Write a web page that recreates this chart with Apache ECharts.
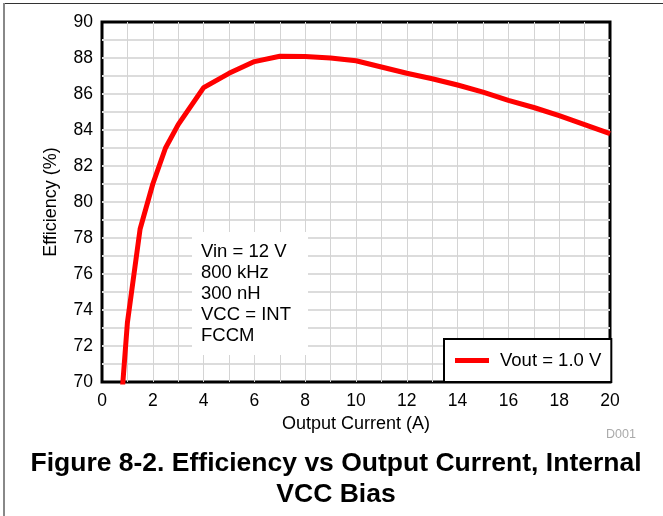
<!DOCTYPE html>
<html>
<head>
<meta charset="utf-8">
<script src="https://cdn.jsdelivr.net/npm/echarts@6/dist/echarts.min.js"></script>
<style>
  html, body { margin: 0; padding: 0; background: #fff; }
  #chart { width: 663px; height: 516px; }
</style>
</head>
<body>
<div id="chart"></div>
<script>
// Efficiency curve, Vout = 1.0 V
const currentA = [0.5, 1, 1.5, 2, 2.5, 3, 4, 5, 6, 7, 8, 9, 10, 11, 12, 13, 14, 15, 16, 17, 18, 19, 20];
const efficiencyPct = [64, 73.3, 78.5, 81, 83, 84.3, 86.35, 87.15, 87.8, 88.1, 88.08, 88.0, 87.85, 87.5, 87.15, 86.85, 86.5, 86.1, 85.65, 85.25, 84.8, 84.3, 83.8];
const seriesName = 'Vout = 1.0 V';
const conditions = ['Vin = 12 V', '800 kHz', '300 nH', 'VCC = INT', 'FCCM'];
const xTicks = [0, 2, 4, 6, 8, 10, 12, 14, 16, 18, 20];
const yTicks = [70, 72, 74, 76, 78, 80, 82, 84, 86, 88, 90];
const titleLines = ['Figure 8-2. Efficiency vs Output Current, Internal', 'VCC Bias'];

const FONT = '"Liberation Sans", Arial, Helvetica, sans-serif';
const chart = echarts.init(document.getElementById('chart'), null, { renderer: 'canvas' });

const points = currentA.map((x, i) => [x, efficiencyPct[i]]);

chart.setOption({
  animation: false,
  backgroundColor: '#fff',
  grid: {
    left: 102, right: 53, top: 22, bottom: 134,
    show: true, borderColor: '#000', borderWidth: 3, backgroundColor: '#fff'
  },
  xAxis: {
    type: 'value', min: 0, max: 20, interval: 1,
    name: 'Output Current (A)', nameLocation: 'middle', nameGap: 28,
    nameTextStyle: { fontFamily: FONT, fontSize: 18, color: '#000' },
    axisLine: { show: false },
    axisTick: { show: false },
    axisLabel: {
      fontFamily: FONT, fontSize: 17.5, color: '#000', margin: 10,
      formatter: v => (xTicks.indexOf(v) >= 0 ? String(v) : '')
    },
    splitLine: { show: true, showMinLine: false, showMaxLine: false, lineStyle: { color: '#d4d4d4', width: 1 } }
  },
  yAxis: {
    type: 'value', min: 70, max: 90, interval: 1,
    name: 'Efficiency (%)', nameLocation: 'middle', nameGap: 42,
    nameTextStyle: { fontFamily: FONT, fontSize: 18, color: '#000' },
    axisLine: { show: false },
    axisTick: { show: false },
    axisLabel: {
      fontFamily: FONT, fontSize: 17.5, color: '#000', margin: 9,
      formatter: v => (yTicks.indexOf(v) >= 0 ? String(v) : '')
    },
    splitLine: { show: true, showMinLine: false, showMaxLine: false, lineStyle: { color: '#dcdcdc', width: 2 } }
  },
  legend: {
    left: 444, top: 339,
    data: [{ name: seriesName, icon: 'rect' }],
    itemWidth: 34, itemHeight: 5, itemGap: 10,
    padding: [11, 10, 11, 11],
    backgroundColor: '#fff', borderColor: '#000', borderWidth: 2, borderRadius: 0,
    textStyle: { fontFamily: FONT, fontSize: 18.5, lineHeight: 21, color: '#000', padding: [0, 0, 0, 6] }
  },
  series: [{
    name: seriesName,
    type: 'line',
    data: points,
    showSymbol: false,
    clip: true,
    lineStyle: { color: '#ff0000', width: 5 },
    itemStyle: { color: '#ff0000' },
    z: 3
  }],
  graphic: [
    { type: 'line', shape: { x1: 3, y1: 3.5, x2: 663, y2: 3.5 }, style: { stroke: '#333', lineWidth: 1 } },
    { type: 'line', shape: { x1: 4, y1: 3, x2: 4, y2: 516 }, style: { stroke: '#888', lineWidth: 2 } },
    // white panel behind the test conditions
    { type: 'rect', shape: { x: 192, y: 232, width: 116, height: 123 }, style: { fill: '#fff' }, z: 10 },
    {
      type: 'text', x: 201, y: 241, z: 11,
      style: {
        text: conditions.join('\n'), fontFamily: FONT, fontSize: 18.5, lineHeight: 21, fill: '#000'
      }
    },
    {
      type: 'text', x: 606, y: 428,
      style: { text: 'D001', fontFamily: FONT, fontSize: 12.5, fill: '#aaa' }
    },
    {
      type: 'text', x: 336, y: 464,
      style: {
        text: titleLines[0], fontFamily: FONT, fontSize: 26.5, fontWeight: 'bold',
        fill: '#000', align: 'center', verticalAlign: 'middle'
      }
    },
    {
      type: 'text', x: 336, y: 494.5,
      style: {
        text: titleLines[1], fontFamily: FONT, fontSize: 26.5, fontWeight: 'bold',
        fill: '#000', align: 'center', verticalAlign: 'middle'
      }
    }
  ]
});
</script>
</body>
</html>
